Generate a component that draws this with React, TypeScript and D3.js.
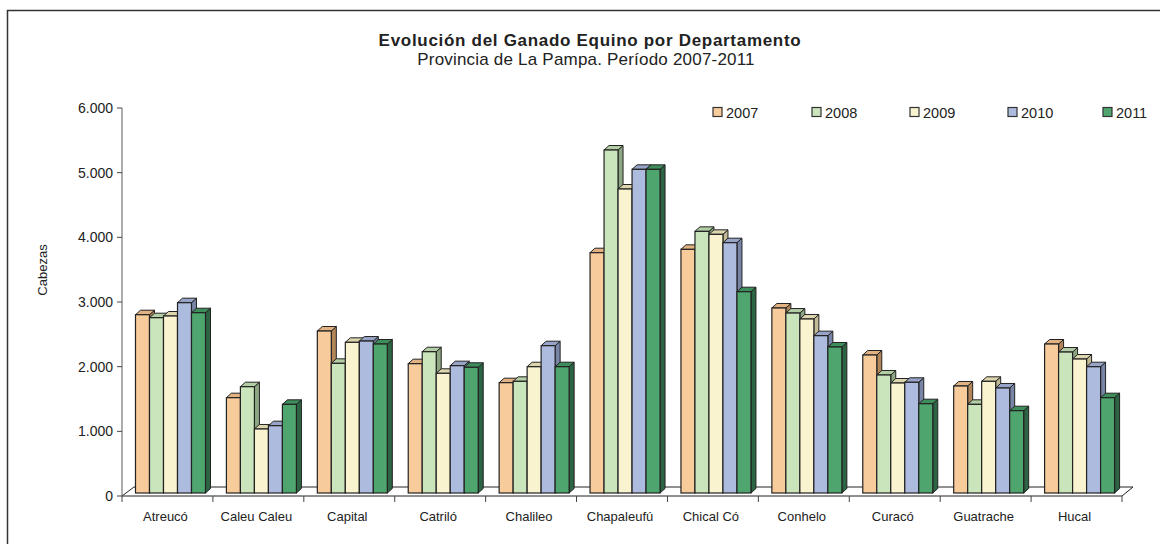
import React from "react";
import * as d3 from "d3";

const categories = ["Atreucó", "Caleu Caleu", "Capital", "Catriló", "Chalileo", "Chapaleufú", "Chical Có", "Conhelo", "Curacó", "Guatrache", "Hucal"];
const years = ["2007", "2008", "2009", "2010", "2011"];
const v2007 = [2757, 1474, 2505, 2000, 1706, 3716, 3768, 2861, 2134, 1655, 2304];
const v2008 = [2711, 1644, 2005, 2185, 1727, 5304, 4046, 2783, 1825, 1371, 2180];
const v2009 = [2737, 990, 2330, 1851, 1953, 4701, 4000, 2691, 1701, 1727, 2072];
const v2010 = [2943, 1041, 2350, 1969, 2278, 5005, 3871, 2433, 1712, 1624, 1953];
const v2011 = [2788, 1371, 2304, 1944, 1953, 5005, 3113, 2258, 1381, 1273, 1474];
const yTicks = [0, 1000, 2000, 3000, 4000, 5000, 6000];
const series = [v2007, v2008, v2009, v2010, v2011];

const frontColors = ["#F8CB9B", "#CAE4BC", "#FAF3D0", "#ADBBDE", "#4EA56E"];
const topColors = ["#E2B282", "#B3CDA5", "#DDD5AE", "#97A4C7", "#3E8E5B"];
const sideColors = ["#B38659", "#8EA783", "#C2BB95", "#7884A6", "#2D6443"];

const fmt = (v: number) => d3.format(",")(v).replace(/,/g, ".");

export default function App() {
  const W = 1160, H = 544;
  const x0 = 122, x1 = 1122;
  const y = d3.scaleLinear().domain([0, 6000]).range([496, 108]);
  const xCat = d3.scaleBand<string>().domain(categories).range([x0, x1]).paddingInner(0).paddingOuter(0);
  const xYear = d3.scaleBand<string>().domain(years).range([13.5, 13.5 + 70]).padding(0);
  const shift = 3; // bars sit behind the front plane
  const dx = 5, dy = 4.5;
  const base = y(0) - shift;
  const font = "'Liberation Sans', Arial, sans-serif";

  const bars: React.ReactNode[] = [];
  categories.forEach((c, ci) => {
    years.forEach((yr, si) => {
      const v = series[si][ci];
      const bx = (xCat(c) as number) + (xYear(yr) as number);
      const w = xYear.bandwidth();
      const top = y(v) - shift;
      const topPts = [[bx, top], [bx + dx, top - dy], [bx + w + dx, top - dy], [bx + w, top]];
      const sidePts = [[bx + w, top], [bx + w + dx, top - dy], [bx + w + dx, base - dy], [bx + w, base]];
      bars.push(
        <g key={c + yr}>
          <polygon points={sidePts.map(p => p.join(",")).join(" ")} fill={sideColors[si]} stroke="#222" strokeWidth={1} strokeLinejoin="round" />
          <polygon points={topPts.map(p => p.join(",")).join(" ")} fill={topColors[si]} stroke="#222" strokeWidth={1} strokeLinejoin="round" />
          <rect x={bx} y={top} width={w} height={base - top} fill={frontColors[si]} stroke="#222" strokeWidth={1.2} />
        </g>
      );
    });
  });

  const legendX = [713, 812, 910, 1008, 1103];

  return (
    <svg width={W} height={H} style={{ position: "absolute", left: 0, top: 0, background: "#fff" }} fontFamily={font}>
      <rect x={7.5} y={10.5} width={1200} height={600} fill="#fff" stroke="#333" strokeWidth={1.5} />
      <text x={590} y={46} textAnchor="middle" fontSize={17} fontWeight="bold" fill="#222" letterSpacing={0.7}>Evolución del Ganado Equino por Departamento</text>
      <text x={586} y={65} textAnchor="middle" fontSize={17} fill="#222" letterSpacing={0.2}>Provincia de La Pampa. Período 2007-2011</text>

      {/* floor */}
      <g stroke="#222" strokeWidth={1} fill="none">
        <line x1={x0} y1={y(0)} x2={x1} y2={y(0)} />
        <line x1={x0 + 12} y1={y(0) - 9} x2={x1 + 11} y2={y(0) - 9} />
        <line x1={x0} y1={y(0)} x2={x0 + 12} y2={y(0) - 9} />
        <line x1={x1} y1={y(0)} x2={x1 + 11} y2={y(0) - 9} />
      </g>

      {/* y axis */}
      <line x1={x0} y1={y(6000)} x2={x0} y2={y(0)} stroke="#777" strokeWidth={1.2} />
      {yTicks.map(t => (
        <g key={t}>
          <line x1={x0 - 5} x2={x0} y1={y(t)} y2={y(t)} stroke="#444" />
          <text x={x0 - 9} y={y(t) + 5} textAnchor="end" fontSize={14} fill="#222">{fmt(t)}</text>
        </g>
      ))}
      <text transform="translate(47,270) rotate(-90)" textAnchor="middle" fontSize={13} fill="#222">Cabezas</text>

      {/* category ticks and labels */}
      {categories.map((c, i) => (
        <g key={c}>
          <line x1={(xCat(c) as number) + xCat.bandwidth()} x2={(xCat(c) as number) + xCat.bandwidth()} y1={y(0)} y2={y(0) + 6} stroke="#444" />
          <text x={(xCat(c) as number) + xCat.bandwidth() / 2 - 2} y={521} textAnchor="middle" fontSize={13} fill="#222">{c}</text>
        </g>
      ))}
      <line x1={x0} x2={x0} y1={y(0)} y2={y(0) + 6} stroke="#444" />

      {bars}

      {/* legend */}
      {years.map((yr, i) => (
        <g key={yr}>
          <rect x={legendX[i]} y={107.5} width={9} height={9} fill={frontColors[i]} stroke="#333" strokeWidth={1.2} />
          <text x={legendX[i] + 13} y={117.5} fontSize={14.5} fill="#222">{yr}</text>
        </g>
      ))}
    </svg>
  );
}
